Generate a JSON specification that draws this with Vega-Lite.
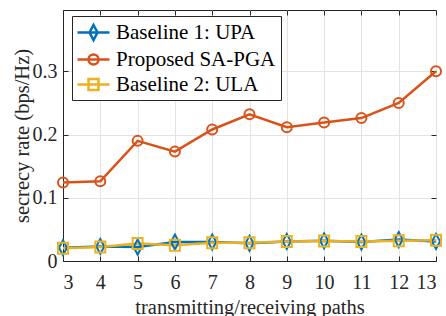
{
  "$schema": "https://vega.github.io/schema/vega-lite/v6.json",
  "width": 373,
  "height": 251,
  "autosize": {"type": "none"},
  "padding": {"left": 63, "top": 10, "right": 10, "bottom": 55},
  "background": "white",
  "config": {
    "font": "Liberation Serif",
    "view": {"stroke": "#262626", "strokeWidth": 1},
    "axis": {
      "domainColor": "#262626",
      "tickColor": "#262626",
      "gridColor": "#e3e3e3",
      "gridWidth": 1,
      "labelColor": "#262626",
      "titleColor": "#262626",
      "labelFont": "Liberation Serif",
      "titleFont": "Liberation Serif",
      "labelFontSize": 20,
      "titleFontSize": 20.5,
      "titleFontWeight": "normal"
    }
  },
  "data": {
    "values": [
      {"p": 3, "s": "Baseline 1: UPA", "r": 0.021},
      {"p": 4, "s": "Baseline 1: UPA", "r": 0.023},
      {"p": 5, "s": "Baseline 1: UPA", "r": 0.022},
      {"p": 6, "s": "Baseline 1: UPA", "r": 0.030},
      {"p": 7, "s": "Baseline 1: UPA", "r": 0.030},
      {"p": 8, "s": "Baseline 1: UPA", "r": 0.028},
      {"p": 9, "s": "Baseline 1: UPA", "r": 0.031},
      {"p": 10, "s": "Baseline 1: UPA", "r": 0.032},
      {"p": 11, "s": "Baseline 1: UPA", "r": 0.030},
      {"p": 12, "s": "Baseline 1: UPA", "r": 0.034},
      {"p": 13, "s": "Baseline 1: UPA", "r": 0.031},
      {"p": 3, "s": "Proposed SA-PGA", "r": 0.124},
      {"p": 4, "s": "Proposed SA-PGA", "r": 0.126},
      {"p": 5, "s": "Proposed SA-PGA", "r": 0.190},
      {"p": 6, "s": "Proposed SA-PGA", "r": 0.173},
      {"p": 7, "s": "Proposed SA-PGA", "r": 0.208},
      {"p": 8, "s": "Proposed SA-PGA", "r": 0.232},
      {"p": 9, "s": "Proposed SA-PGA", "r": 0.2115},
      {"p": 10, "s": "Proposed SA-PGA", "r": 0.219},
      {"p": 11, "s": "Proposed SA-PGA", "r": 0.226},
      {"p": 12, "s": "Proposed SA-PGA", "r": 0.250},
      {"p": 13, "s": "Proposed SA-PGA", "r": 0.300},
      {"p": 3, "s": "Baseline 2: ULA", "r": 0.020},
      {"p": 4, "s": "Baseline 2: ULA", "r": 0.022},
      {"p": 5, "s": "Baseline 2: ULA", "r": 0.0275},
      {"p": 6, "s": "Baseline 2: ULA", "r": 0.025},
      {"p": 7, "s": "Baseline 2: ULA", "r": 0.029},
      {"p": 8, "s": "Baseline 2: ULA", "r": 0.029},
      {"p": 9, "s": "Baseline 2: ULA", "r": 0.031},
      {"p": 10, "s": "Baseline 2: ULA", "r": 0.0315},
      {"p": 11, "s": "Baseline 2: ULA", "r": 0.031},
      {"p": 12, "s": "Baseline 2: ULA", "r": 0.032},
      {"p": 13, "s": "Baseline 2: ULA", "r": 0.033}
    ]
  },
  "layer": [
    {
      "mark": {"type": "line", "strokeWidth": 2.5},
      "encoding": {
        "x": {
          "field": "p", "type": "quantitative",
          "scale": {"domain": [3, 13], "nice": false, "zero": false},
          "axis": {"orient": "top", "values": [3,4,5,6,7,8,9,10,11,12,13], "labels": false, "grid": false, "domain": false, "tickSize": -5, "title": null}
        },
        "y": {
          "field": "r", "type": "quantitative",
          "scale": {"domain": [0, 0.397], "nice": false, "zero": true},
          "axis": {"orient": "right", "values": [0, 0.1, 0.2, 0.3], "labels": false, "grid": false, "domain": false, "tickSize": -5, "title": null}
        },
        "color": {
          "field": "s", "type": "nominal", "sort": null,
          "scale": {"domain": ["Baseline 1: UPA", "Proposed SA-PGA", "Baseline 2: ULA"], "range": ["#0072BD", "#D95319", "#EDB120"]}
        }
      }
    },
    {
      "transform": [{"filter": "datum.s === 'Baseline 1: UPA'"}],
      "mark": {"type": "point", "filled": false, "strokeWidth": 2, "size": 400, "opacity": 1, "color": "#0072BD", "shape": "M0,-0.75L0.4,0L0,0.75L-0.4,0Z"},
      "encoding": {
        "x": {
          "field": "p", "type": "quantitative",
          "axis": {"orient": "bottom", "values": [3,4,5,6,7,8,9,10,11,12,13], "grid": true, "tickSize": -5, "labelPadding": 16, "title": "transmitting/receiving paths", "titlePadding": 5}
        },
        "y": {
          "field": "r", "type": "quantitative",
          "axis": {"orient": "left", "values": [0, 0.1, 0.2, 0.3], "format": ".1~f", "grid": true, "tickSize": -5, "labelPadding": 11, "title": "secrecy rate (bps/Hz)", "titlePadding": 0}
        }
      }
    },
    {
      "transform": [{"filter": "datum.s === 'Proposed SA-PGA'"}],
      "mark": {"type": "point", "filled": false, "strokeWidth": 2, "size": 400, "opacity": 1, "color": "#D95319", "shape": "M-0.5,0A0.5,0.5,0,1,0,0.5,0A0.5,0.5,0,1,0,-0.5,0Z"},
      "encoding": {
        "x": {"field": "p", "type": "quantitative", "axis": null},
        "y": {"field": "r", "type": "quantitative", "axis": null}
      }
    },
    {
      "transform": [{"filter": "datum.s === 'Baseline 2: ULA'"}],
      "mark": {"type": "point", "filled": false, "strokeWidth": 2, "size": 400, "opacity": 1, "color": "#EDB120", "shape": "M-0.5,-0.55H0.5V0.55H-0.5Z"},
      "encoding": {
        "x": {"field": "p", "type": "quantitative", "axis": null},
        "y": {"field": "r", "type": "quantitative", "axis": null}
      }
    },
    {
      "transform": [{"filter": "datum.p < 0"}],
      "mark": {"type": "point", "filled": false, "strokeWidth": 2.5, "size": 400, "opacity": 1},
      "encoding": {
        "x": {"field": "p", "type": "quantitative", "axis": null},
        "y": {"field": "r", "type": "quantitative", "axis": null},
        "shape": {
          "field": "s", "type": "nominal", "sort": null,
          "scale": {"domain": ["Baseline 1: UPA", "Proposed SA-PGA", "Baseline 2: ULA"], "range": ["M-1.6,0H1.6M0,-0.75L0.4,0L0,0.75L-0.4,0Z", "M-1.6,0H1.6M-0.5,0A0.5,0.5,0,1,0,0.5,0A0.5,0.5,0,1,0,-0.5,0Z", "M-1.6,0H1.6M-0.5,-0.55H0.5V0.55H-0.5Z"]}
        },
        "color": {
          "field": "s", "type": "nominal", "sort": null,
          "legend": {
            "title": null,
            "orient": "none",
            "legendX": 9,
            "legendY": 6,
            "direction": "vertical",
            "fillColor": "white",
            "strokeColor": "#262626",
            "padding": 5,
            "labelFont": "Liberation Serif",
            "labelFontSize": 21,
            "labelColor": "#000000",
            "labelLimit": 400,
            "labelOffset": 11,
            "rowPadding": 3,
            "symbolSize": 400,
            "symbolOffset": 5,
            "symbolStrokeWidth": 2.5,
            "symbolOpacity": 1,
            "symbolFillColor": "transparent"
          }
        }
      }
    }
  ]
}
